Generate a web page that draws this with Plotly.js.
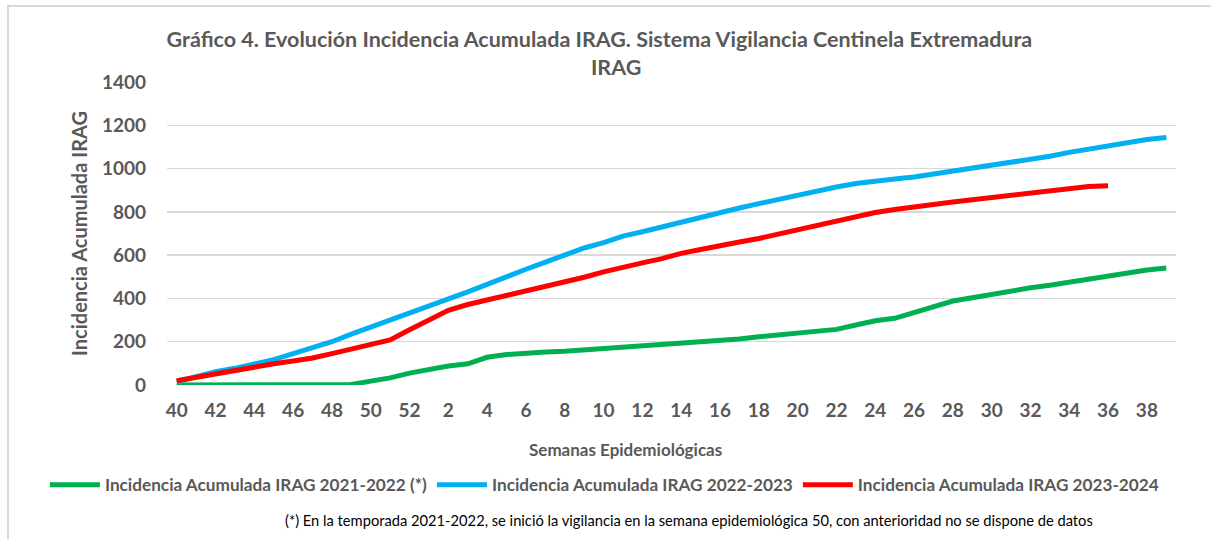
<!DOCTYPE html>
<html>
<head>
<meta charset="utf-8">
<script src="https://cdn.plot.ly/plotly-3.0.1.min.js"></script>
<style>
  body { margin: 0; background: #fff; }
  #wrap { position: relative; width: 1211px; height: 539px; overflow: hidden; }
  #plot { width: 1211px; height: 539px; }
  #frame {
    position: absolute; left: 7px; top: 5px; right: 0; bottom: -10px;
    border-left: 2px solid #d9d9d9; border-top: 2px solid #d9d9d9;
    pointer-events: none;
  }
</style>
</head>
<body>
<div id="wrap">
  <div id="plot"></div>
  <div id="frame"></div>
</div>
<script>
// Semanas epidemiológicas 40..52 y 1..39
let weeks = ["40","41","42","43","44","45","46","47","48","49","50","51","52",
  "1","2","3","4","5","6","7","8","9","10","11","12","13","14","15","16","17","18","19",
  "20","21","22","23","24","25","26","27","28","29","30","31","32","33","34","35","36","37","38","39"];

// Incidencia acumulada IRAG por temporada
let season2122 = [0,0,0,0,0,0,0,0,0,2,18,33,55,72,88,98,128,141,148,152,
  156,162,168,174,180,188,195,200,206,213,223,231,238,246,257,277,297,308,334,357,
  388,403,418,438,449,461,475,491,506,518,531,541];

let season2223 = [15,40,62,77,95,117,145,172,200,235,267,300,328,360,395,430,465,502,535,568,
  600,633,658,688,708,731,754,774,797,818,838,858,877,897,915,931,943,952,961,974,
  987,1000,1015,1029,1044,1057,1075,1090,1106,1121,1134,1144];

let season2324 = [20,36,54,68,83,98,111,125,145,165,185,208,255,298,345,372,393,412,432,455,
  472,498,523,546,564,584,608,626,646,661,677,697,715,738,758,780,797,811,820,834,
  846,856,869,880,887,898,909,917,921];

let gray = "#595959";

let trace1 = {
  x: weeks,
  y: season2122,
  name: "Incidencia Acumulada IRAG 2021-2022 (*)",
  type: "scatter",
  mode: "lines",
  line: {color: "#00B050", width: 5}
};

let trace2 = {
  x: weeks,
  y: season2223,
  name: "Incidencia Acumulada IRAG 2022-2023",
  type: "scatter",
  mode: "lines",
  line: {color: "#00B0F0", width: 5}
};

let trace3 = {
  x: weeks.slice(0, season2324.length),
  y: season2324,
  name: "Incidencia Acumulada IRAG 2023-2024",
  type: "scatter",
  mode: "lines",
  line: {color: "#FF0000", width: 5}
};

let layout = {
  width: 1211,
  height: 539,
  margin: {l: 167, r: 35, t: 82, b: 154},
  paper_bgcolor: "#fff",
  plot_bgcolor: "#fff",
  font: {family: "Lato, 'Open Sans', sans-serif", color: gray},
  title: {
    text: "<b>Gráfico 4. Evolución Incidencia Acumulada IRAG. Sistema Vigilancia Centinela Extremadura</b>",
    font: {size: 21.5, color: gray},
    xref: "container", x: 0.495, xanchor: "center",
    yref: "container", y: 0.9276, yanchor: "middle"
  },
  xaxis: {
    type: "category",
    range: [-0.5, 51.5],
    dtick: 2,
    showgrid: false,
    showline: false,
    ticks: "",
    ticklabelstandoff: 12,
    tickfont: {size: 19, color: gray, weight: "bold"}
  },
  yaxis: {
    range: [0, 1400],
    dtick: 200,
    gridcolor: "#d9d9d9",
    gridwidth: 1.5,
    zeroline: false,
    showline: false,
    ticks: "",
    ticklabelstandoff: 20,
    tickfont: {size: 19, color: gray, weight: "bold"},
    title: {
      text: "<b>Incidencia Acumulada IRAG</b>",
      font: {size: 20, color: gray},
      standoff: 8
    }
  },
  showlegend: true,
  legend: {
    orientation: "h",
    xref: "paper", x: -0.121, xanchor: "left",
    yref: "paper", y: -0.33, yanchor: "middle",
    font: {size: 17.2, color: gray, weight: "bold"},
    itemwidth: 50,
    tracegroupgap: 0
  },
  annotations: [
    {
      text: "<b>IRAG</b>",
      xref: "paper", yref: "paper",
      x: 0.445, y: 1.0495,
      xanchor: "center", yanchor: "middle",
      showarrow: false,
      font: {size: 21.5, color: gray}
    },
    {
      text: "<b>Semanas Epidemiológicas</b>",
      xref: "paper", yref: "paper",
      x: 0.454, y: -0.2145,
      xanchor: "center", yanchor: "middle",
      showarrow: false,
      font: {size: 17, color: gray}
    },
    {
      text: "(*) En la temporada 2021-2022, se inició la vigilancia en la semana epidemiológica 50, con anterioridad no se dispone de datos",
      xref: "paper", yref: "paper",
      x: 0.517, y: -0.4455,
      xanchor: "center", yanchor: "middle",
      showarrow: false,
      font: {size: 14.7, color: "#000"}
    }
  ]
};

Plotly.newPlot("plot", [trace1, trace2, trace3], layout, {staticPlot: true});
</script>
</body>
</html>
